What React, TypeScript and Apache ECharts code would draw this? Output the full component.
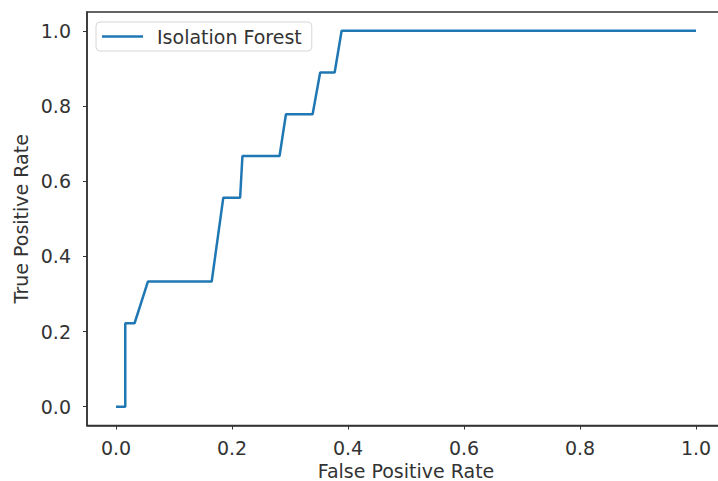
import React, { useEffect, useRef } from "react";
import * as echarts from "echarts";

const seriesName = "Isolation Forest";
const fpr = [0, 0.016, 0.016, 0.032, 0.055, 0.165, 0.185, 0.214, 0.218, 0.282, 0.293, 0.339, 0.352, 0.377, 0.389, 1.0];
const tpr = [0, 0, 0.222, 0.222, 0.333, 0.333, 0.556, 0.556, 0.667, 0.667, 0.778, 0.778, 0.889, 0.889, 1.0, 1.0];
const xTicks = [0, 0.2, 0.4, 0.6, 0.8, 1.0];
const yTicks = [0, 0.2, 0.4, 0.6, 0.8, 1.0];
const xTitle = "False Positive Rate";
const yTitle = "True Positive Rate";

const FONT = "DejaVu Sans";
const TXT = "#333";
const FS = 19;

export default function App() {
  const ref = useRef<HTMLDivElement>(null);
  useEffect(() => {
    if (!ref.current) return;
    const chart = echarts.init(ref.current, null, { renderer: "svg" });
    const axisCommon = {
      type: "value" as const,
      min: -0.05,
      max: 1.05,
      splitLine: { show: false },
      axisLine: { show: true, onZero: false, lineStyle: { color: "#333", width: 1.5 } },
    };
    chart.setOption({
      animation: false,
      backgroundColor: "#fff",
      textStyle: { fontFamily: FONT },
      grid: {
        left: 87,
        top: 12,
        right: -7,
        bottom: 55.5,
        outerBoundsMode: "none",
        containLabel: false,
        show: true,
        borderColor: "#333",
        borderWidth: 1.5,
        backgroundColor: "transparent",
      },
      legend: {
        show: true,
        left: 96,
        top: 22,
        orient: "vertical",
        padding: [5, 10, 5, 6],
        backgroundColor: "#fff",
        borderColor: "#d6d6d6",
        borderWidth: 1,
        borderRadius: 4,
        itemWidth: 41,
        itemHeight: 2.5,
        data: [{ name: seriesName, icon: "rect" }],
        itemStyle: { color: "#1f77b4" },
        textStyle: {
          fontFamily: FONT,
          fontSize: FS,
          color: TXT,
          padding: [0, 0, 0, 9],
        },
      },
      xAxis: {
        ...axisCommon,
        name: xTitle,
        nameLocation: "middle",
        nameGap: 36,
        nameMoveOverlap: false,
        nameTextStyle: { fontFamily: FONT, fontSize: FS, lineHeight: 19, color: TXT },
        axisTick: { show: true, customValues: xTicks, length: 4, lineStyle: { color: "#333", width: 1 } },
        axisLabel: {
          customValues: xTicks,
          margin: 13,
          fontFamily: FONT,
          fontSize: FS,
          lineHeight: 19,
          color: TXT,
          formatter: (v: number) => v.toFixed(1),
        },
      },
      yAxis: {
        ...axisCommon,
        name: yTitle,
        nameLocation: "middle",
        nameGap: 57,
        nameRotate: 90,
        nameMoveOverlap: false,
        nameTextStyle: { fontFamily: FONT, fontSize: FS, color: TXT },
        axisTick: { show: true, customValues: yTicks, length: 4, lineStyle: { color: "#333", width: 1 } },
        axisLabel: {
          customValues: yTicks,
          margin: 16,
          fontFamily: FONT,
          fontSize: FS,
          color: TXT,
          formatter: (v: number) => v.toFixed(1),
        },
      },
      series: [
        {
          name: seriesName,
          type: "line",
          data: fpr.map((x, i) => [x, tpr[i]]),
          showSymbol: false,
          symbol: "none",
          lineStyle: { color: "#1f77b4", width: 2.5 },
          itemStyle: { color: "#1f77b4" },
        },
      ],
    });
    return () => chart.dispose();
  }, []);
  return (
    <div
      ref={ref}
      style={{ position: "fixed", left: 0, top: 0, width: 718, height: 481, background: "#fff" }}
    />
  );
}
